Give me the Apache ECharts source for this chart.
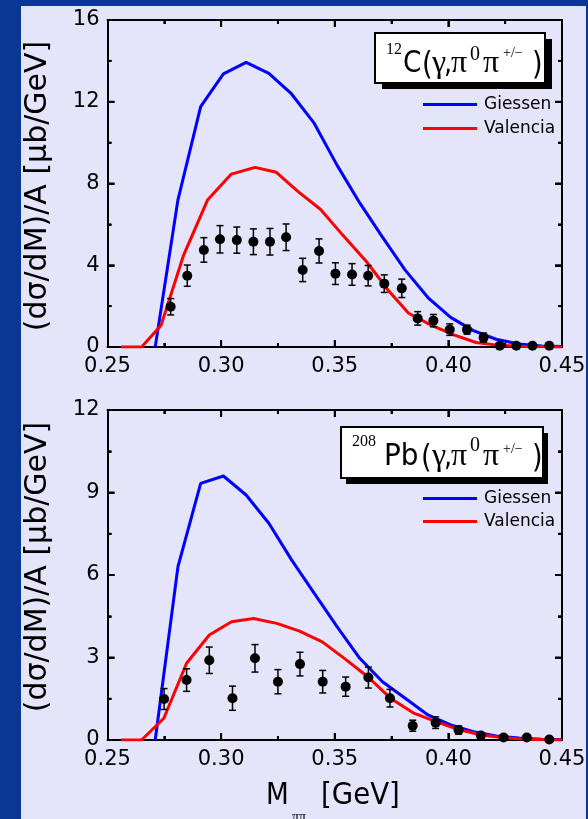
<!DOCTYPE html>
<html>
<head>
<meta charset="utf-8">
<script src="https://cdn.jsdelivr.net/npm/echarts@6.0.0/dist/echarts.min.js"></script>
<style>
  html, body { margin: 0; padding: 0; background: #0a3796; }
  #wrap { position: relative; width: 588px; height: 819px; overflow: hidden; }
  #panel { position: absolute; left: 21px; top: 6px; width: 565px; height: 813px; background: #e4e4fb; }
  #chart { position: absolute; left: 0; top: 0; width: 588px; height: 819px; }
</style>
</head>
<body>
<div id="wrap"><div id="panel"></div><div id="chart"></div></div>
<script>
// ---- 12C(γ,π0π±): model curves and measured points ----
const cGiessenM = [0.271, 0.281, 0.291, 0.301, 0.311, 0.321, 0.331, 0.341, 0.351, 0.361, 0.371, 0.381, 0.391, 0.401, 0.411, 0.421, 0.431, 0.441, 0.450];
const cGiessenY = [0, 7.2, 11.76, 13.36, 13.93, 13.39, 12.38, 10.94, 8.9, 7.05, 5.38, 3.76, 2.42, 1.45, 0.8, 0.38, 0.15, 0.05, 0.02];

const cValenciaM = [0.256, 0.265, 0.2736, 0.2835, 0.294, 0.3045, 0.3149, 0.3243, 0.3339, 0.3438, 0.3537, 0.3644, 0.3734, 0.3825, 0.3924, 0.4024, 0.4122, 0.4222, 0.432, 0.442, 0.450];
const cValenciaY = [0, 0, 1.07, 4.5, 7.19, 8.46, 8.79, 8.55, 7.6, 6.73, 5.45, 4.12, 2.79, 1.65, 1.07, 0.59, 0.22, 0.08, 0.03, 0.01, 0];

const cDataM = [0.2778, 0.2851, 0.2924, 0.2995, 0.3069, 0.3142, 0.3215, 0.3286, 0.3359, 0.3431, 0.3503, 0.3576, 0.3647, 0.3718, 0.3795, 0.3865, 0.3934, 0.4006, 0.4082, 0.4155, 0.4226, 0.4299, 0.437, 0.4444];
const cDataY = [1.97, 3.49, 4.75, 5.27, 5.23, 5.15, 5.15, 5.37, 3.77, 4.70, 3.59, 3.55, 3.49, 3.10, 2.87, 1.40, 1.29, 0.85, 0.85, 0.46, 0.06, 0.06, 0.06, 0.06];
const cDataErr = [0.4, 0.52, 0.6, 0.67, 0.64, 0.63, 0.65, 0.65, 0.57, 0.59, 0.53, 0.53, 0.5, 0.43, 0.45, 0.33, 0.3, 0.28, 0.22, 0.22, 0.05, 0.05, 0.05, 0.05];

// ---- 208Pb(γ,π0π±): model curves and measured points ----
const pbGiessenM = [0.271, 0.281, 0.291, 0.301, 0.311, 0.321, 0.331, 0.341, 0.351, 0.361, 0.371, 0.381, 0.391, 0.401, 0.411, 0.421, 0.431, 0.441, 0.450];
const pbGiessenY = [0, 6.3, 9.33, 9.6, 8.91, 7.88, 6.55, 5.33, 4.12, 2.97, 2.12, 1.52, 0.91, 0.55, 0.30, 0.15, 0.07, 0.03, 0.01];

const pbValenciaM = [0.256, 0.265, 0.2748, 0.2848, 0.2948, 0.3046, 0.3142, 0.3245, 0.3345, 0.3445, 0.3545, 0.3645, 0.3745, 0.3845, 0.3945, 0.4045, 0.4145, 0.4245, 0.4345, 0.4445, 0.450];
const pbValenciaY = [0, 0, 0.79, 2.79, 3.82, 4.30, 4.42, 4.24, 3.96, 3.57, 2.95, 2.30, 1.52, 0.99, 0.67, 0.38, 0.18, 0.08, 0.03, 0.01, 0];

const pbDataM = [0.2749, 0.2848, 0.2948, 0.3050, 0.3149, 0.3250, 0.3347, 0.3447, 0.3548, 0.3648, 0.3743, 0.3843, 0.3944, 0.4045, 0.4143, 0.4243, 0.4345, 0.4444];
const pbDataY = [1.49, 2.18, 2.90, 1.52, 2.97, 2.12, 2.76, 2.12, 1.94, 2.27, 1.52, 0.52, 0.63, 0.36, 0.16, 0.09, 0.09, 0.02];
const pbDataErr = [0.38, 0.41, 0.48, 0.44, 0.5, 0.44, 0.43, 0.41, 0.35, 0.38, 0.32, 0.2, 0.21, 0.15, 0.1, 0.08, 0.08, 0.03];

// ---- axis ranges and tick positions ----
const massRange = [0.25, 0.45];
const massStep = 0.05;
const massMajorTicks = [0.30, 0.35, 0.40];
const massMinorTicks = [0.275, 0.325, 0.375, 0.425];

const cYRange = [0, 16];
const cYStep = 4;
const cYMajorTicks = [4, 8, 12];
const cYMinorTicks = [2, 6, 10, 14];

const pbYRange = [0, 12];
const pbYStep = 3;
const pbYMajorTicks = [3, 6, 9];
const pbYMinorTicks = [1.5, 4.5, 7.5, 10.5];

const modelNames = ['Giessen', 'Valencia'];
const yTitle = '(dσ/dM)/A [μb/GeV]';

const SANS = 'DejaVu Sans';
const SERIF = 'Liberation Serif';

const zip = (a, b) => a.map((v, i) => [v, b[i]]);
const bars = (m, y, e) => m.map((v, i) => [v, y[i] - e[i], y[i] + e[i]]);

const chart = echarts.init(document.getElementById('chart'), null, { renderer: 'canvas' });

const grids = [
  { left: 107.5, width: 454.5, top: 20, height: 327, outerBoundsMode: 'none', containLabel: false },
  { left: 107.5, width: 454.5, top: 410, height: 330, outerBoundsMode: 'none', containLabel: false }
];

const frameLine = { show: true, onZero: false, lineStyle: { color: '#000', width: 2 } };
const innerTick = { show: true, inside: true, length: 7, lineStyle: { color: '#000', width: 2 } };
const innerMinor = { show: true, splitNumber: 2, length: 4, lineStyle: { color: '#000', width: 2 } };

function xAxisFor(gridIndex, position, showLabel) {
  return {
    type: 'value', gridIndex, position,
    min: massRange[0], max: massRange[1], interval: massStep,
    axisLine: frameLine, axisTick: innerTick, minorTick: innerMinor,
    splitLine: { show: false },
    axisLabel: {
      show: showLabel, margin: 9, color: '#000', fontSize: 21, fontFamily: SANS,
      formatter: v => v.toFixed(2)
    }
  };
}

function yAxisFor(gridIndex, position, range, step, showLabel) {
  return {
    type: 'value', gridIndex, position,
    min: range[0], max: range[1], interval: step,
    axisLine: frameLine, axisTick: innerTick, minorTick: innerMinor,
    splitLine: { show: false },
    axisLabel: { show: showLabel, margin: 8, color: '#000', fontSize: 21, fontFamily: SANS }
  };
}

function modelSeries(name, color, data, xi, yi) {
  return {
    name, type: 'line', xAxisIndex: xi, yAxisIndex: yi, data,
    symbol: 'none', color, lineStyle: { color, width: 3 }, z: 3, silent: true
  };
}

function pointSeries(data, xi, yi) {
  return {
    type: 'scatter', xAxisIndex: xi, yAxisIndex: yi, data,
    symbol: 'circle', symbolSize: 10, itemStyle: { color: '#000', opacity: 1 }, z: 6, silent: true
  };
}

function errorSeries(data, xi, yi) {
  return {
    type: 'custom', xAxisIndex: xi, yAxisIndex: yi, data, z: 5, silent: true,
    encode: { x: 0, y: [1, 2] },
    renderItem: (params, api) => {
      const x = api.value(0);
      const lo = api.coord([x, api.value(1)]);
      const hi = api.coord([x, api.value(2)]);
      const w = 3.5;
      const st = { stroke: '#000', lineWidth: 1.5 };
      return {
        type: 'group',
        children: [
          { type: 'line', shape: { x1: lo[0], y1: lo[1], x2: hi[0], y2: hi[1] }, style: st },
          { type: 'line', shape: { x1: lo[0] - w, y1: lo[1], x2: lo[0] + w, y2: lo[1] }, style: st },
          { type: 'line', shape: { x1: hi[0] - w, y1: hi[1], x2: hi[0] + w, y2: hi[1] }, style: st }
        ]
      };
    }
  };
}

// Reaction label inside a framed box with a drop shadow
function reactionBox(box, pieces) {
  const els = [
    { type: 'rect', shape: { x: box.x + box.dx, y: box.y + box.dy, width: box.w, height: box.h }, style: { fill: '#000' }, z: 50 },
    { type: 'rect', shape: { x: box.x, y: box.y, width: box.w, height: box.h }, style: { fill: '#fff', stroke: '#000', lineWidth: 2 }, z: 51 }
  ];
  pieces.forEach(p => {
    els.push({
      type: 'text', x: p.x, y: p.b - 0.36 * p.fs, z: 52, scaleX: p.sx || 1,
      style: { text: p.t, fill: '#000', font: `${p.fs}px "${p.f}"`, align: 'left', verticalAlign: 'middle' }
    });
  });
  return els;
}

const cLabel = reactionBox({ x: 375, y: 33, w: 170, h: 50, dx: 7, dy: 6 }, [
  { t: '12', x: 386, b: 56, fs: 16, f: SERIF },
  { t: 'C', x: 403, b: 75, fs: 31, f: SANS, sx: 0.85 },
  { t: '(', x: 422, b: 77, fs: 32, f: SANS, sx: 0.85 },
  { t: 'γ', x: 432, b: 75, fs: 32, f: SERIF },
  { t: ',', x: 444, b: 75, fs: 30, f: SANS, sx: 0.85 },
  { t: 'π', x: 451, b: 75, fs: 32, f: SERIF },
  { t: '0', x: 470, b: 62, fs: 20, f: SERIF },
  { t: 'π', x: 483, b: 75, fs: 32, f: SERIF },
  { t: '+/−', x: 503, b: 58, fs: 14, f: SERIF },
  { t: ')', x: 532, b: 77, fs: 32, f: SANS, sx: 0.85 }
]);

const pbLabel = reactionBox({ x: 341, y: 427, w: 202, h: 51, dx: 5, dy: 6 }, [
  { t: '208', x: 352, b: 448, fs: 16, f: SERIF },
  { t: 'Pb', x: 384, b: 468, fs: 31, f: SANS, sx: 0.9 },
  { t: '(', x: 421, b: 470, fs: 32, f: SANS, sx: 0.85 },
  { t: 'γ', x: 432, b: 468, fs: 32, f: SERIF },
  { t: ',', x: 444, b: 468, fs: 30, f: SANS, sx: 0.85 },
  { t: 'π', x: 451, b: 468, fs: 32, f: SERIF },
  { t: '0', x: 470, b: 453, fs: 20, f: SERIF },
  { t: 'π', x: 483, b: 468, fs: 32, f: SERIF },
  { t: '+/−', x: 503, b: 454, fs: 14, f: SERIF },
  { t: ')', x: 532, b: 470, fs: 32, f: SANS, sx: 0.85 }
]);

function yTitleAt(cy) {
  return {
    type: 'text', x: 38, y: cy, rotation: Math.PI / 2, z: 10,
    style: { text: yTitle, fill: '#000', font: `30px "${SANS}"`, align: 'center', verticalAlign: 'middle' }
  };
}

const xTitle = [
  { type: 'text', x: 266, y: 807 - 0.36 * 30, z: 10, scaleX: 0.88, style: { text: 'M', fill: '#000', font: `30px "${SANS}"`, verticalAlign: 'middle' } },
  { type: 'text', x: 292, y: 822 - 0.36 * 14, z: 10, style: { text: 'ππ', fill: '#000', font: `14px "${SERIF}"`, verticalAlign: 'middle' } },
  { type: 'text', x: 321, y: 807 - 0.36 * 30, z: 10, scaleX: 0.92, style: { text: '[GeV]', fill: '#000', font: `30px "${SANS}"`, verticalAlign: 'middle' } }
];

function legendFor(top, gap) {
  return {
    data: modelNames, orient: 'vertical', left: 418, top,
    icon: 'rect', itemWidth: 54, itemHeight: 3, itemGap: gap, selectedMode: false,
    textStyle: { color: '#000', fontSize: 17, fontFamily: SANS, padding: [0, 0, 0, 2] }
  };
}

const option = {
  animation: false,
  backgroundColor: 'transparent',
  grid: grids,
  xAxis: [
    xAxisFor(0, 'bottom', true),
    xAxisFor(0, 'top', false),
    xAxisFor(1, 'bottom', true),
    xAxisFor(1, 'top', false)
  ],
  yAxis: [
    yAxisFor(0, 'left', cYRange, cYStep, true),
    yAxisFor(0, 'right', cYRange, cYStep, false),
    yAxisFor(1, 'left', pbYRange, pbYStep, true),
    yAxisFor(1, 'right', pbYRange, pbYStep, false)
  ],
  legend: [legendFor(91, 7), legendFor(485, 6)],
  series: [
    modelSeries('Giessen', '#0000ff', zip(cGiessenM, cGiessenY), 0, 0),
    modelSeries('Valencia', '#ff0000', zip(cValenciaM, cValenciaY), 0, 0),
    errorSeries(bars(cDataM, cDataY, cDataErr), 0, 0),
    pointSeries(zip(cDataM, cDataY), 0, 0),
    modelSeries('Giessen', '#0000ff', zip(pbGiessenM, pbGiessenY), 2, 2),
    modelSeries('Valencia', '#ff0000', zip(pbValenciaM, pbValenciaY), 2, 2),
    errorSeries(bars(pbDataM, pbDataY, pbDataErr), 2, 2),
    pointSeries(zip(pbDataM, pbDataY), 2, 2)
  ]
};

chart.setOption(option);

// Inward tick marks on all four sides of a panel, placed through the panel's own scales
function frameTicks(gridIndex, yRange, xMajor, xMinor, yMajor, yMinor) {
  const finder = { gridIndex };
  const lt = chart.convertToPixel(finder, [massRange[0], yRange[1]]);
  const rb = chart.convertToPixel(finder, [massRange[1], yRange[0]]);
  const els = [];
  const seg = (x1, y1, x2, y2) => els.push({
    type: 'line', silent: true, z: 20,
    shape: { x1, y1, x2, y2 }, style: { stroke: '#000', lineWidth: 2 }
  });
  const xTick = (v, len) => {
    const x = chart.convertToPixel(finder, [v, yRange[0]])[0];
    seg(x, rb[1], x, rb[1] - len);
    seg(x, lt[1], x, lt[1] + len);
  };
  const yTick = (v, len) => {
    const y = chart.convertToPixel(finder, [massRange[0], v])[1];
    seg(lt[0], y, lt[0] + len, y);
    seg(rb[0], y, rb[0] - len, y);
  };
  xMajor.forEach(v => xTick(v, 7));
  xMinor.forEach(v => xTick(v, 4));
  yMajor.forEach(v => yTick(v, 7));
  yMinor.forEach(v => yTick(v, 4));
  return els;
}

chart.setOption({
  graphic: [
    ...cLabel,
    ...pbLabel,
    yTitleAt(186),
    yTitleAt(567),
    ...xTitle,
    ...frameTicks(0, cYRange, massMajorTicks, massMinorTicks, cYMajorTicks, cYMinorTicks),
    ...frameTicks(1, pbYRange, massMajorTicks, massMinorTicks, pbYMajorTicks, pbYMinorTicks)
  ]
});
</script>
</body>
</html>
